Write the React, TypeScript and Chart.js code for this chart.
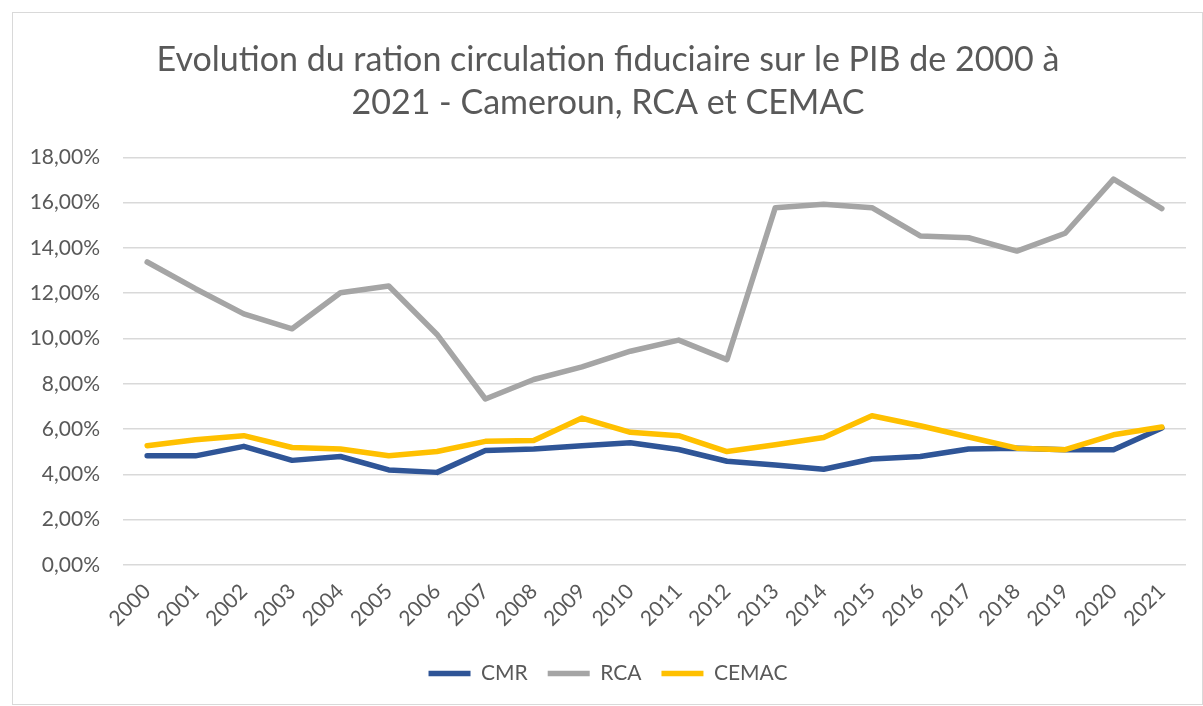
import React, { useEffect, useRef } from "react";
import { Chart, registerables } from "chart.js";

Chart.register(...registerables);

const years = ["2000","2001","2002","2003","2004","2005","2006","2007","2008","2009","2010","2011","2012","2013","2014","2015","2016","2017","2018","2019","2020","2021"];
const cmr = [4.82,4.82,5.24,4.62,4.79,4.20,4.09,5.06,5.12,5.27,5.40,5.10,4.58,4.42,4.23,4.68,4.79,5.12,5.16,5.09,5.09,6.05];
const rca = [13.38,12.20,11.09,10.43,12.02,12.32,10.18,7.33,8.19,8.75,9.44,9.93,9.07,15.78,15.93,15.78,14.53,14.45,13.86,14.65,17.04,15.74];
const cemac = [5.27,5.53,5.71,5.19,5.12,4.82,5.01,5.46,5.50,6.49,5.86,5.71,5.01,5.31,5.63,6.59,6.15,5.65,5.16,5.09,5.75,6.09];
const seriesNames = ["CMR", "RCA", "CEMAC"];
const seriesColors = ["#2F5597", "#A5A5A5", "#FFC000"];
const titleLines = ["Evolution du ration circulation fiduciaire sur le PIB de 2000 à", "2021 - Cameroun, RCA et CEMAC"];
const yMin = 0;
const yMax = 18;
const yStep = 2;

const TEXT = "#595959";
const FONT = "Lato";

export default function App() {
  const ref = useRef<HTMLCanvasElement | null>(null);
  useEffect(() => {
    if (!ref.current) return;
    const values = [cmr, rca, cemac];
    const chart = new Chart(ref.current, {
      type: "line",
      data: {
        labels: years,
        datasets: seriesNames.map((name, i) => ({
          label: name,
          data: values[i],
          borderColor: seriesColors[i],
          backgroundColor: seriesColors[i],
          borderWidth: 5.5,
          pointRadius: 0,
          pointHoverRadius: 0,
          tension: 0,
          borderJoinStyle: "round" as const,
          borderCapStyle: "round" as const,
          order: i === 2 ? 0 : i === 0 ? 2 : 1,
        })),
      },
      options: {
        animation: false,
        responsive: false,
        maintainAspectRatio: false,
        layout: { padding: { left: 17, right: 16, top: 0, bottom: 10 } },
        plugins: {
          title: {
            display: true,
            text: titleLines,
            color: TEXT,
            font: { family: FONT, size: 34, weight: "normal", lineHeight: 1.27 },
            padding: { top: 25, bottom: 33 },
          },
          legend: {
            position: "bottom",
            labels: {
              color: TEXT,
              font: { family: FONT, size: 21 },
              usePointStyle: true,
              pointStyle: "line",
              pointStyleWidth: 42,
              boxHeight: 21,
              padding: 20,
              sort: (a: any, b: any) => a.datasetIndex - b.datasetIndex,
            },
          },
          tooltip: { enabled: false },
        },
        scales: {
          x: {
            offset: true,
            grid: { display: false, drawTicks: false },
            border: { display: false },
            ticks: {
              color: TEXT,
              font: { family: FONT, size: 21 },
              minRotation: 45,
              maxRotation: 45,
              autoSkip: false,
              padding: 14,
            },
            afterFit: (s: any) => { s.height = 78; },
          },
          y: {
            min: yMin,
            max: yMax,
            grid: { color: "#D9D9D9", lineWidth: 1.5, drawTicks: false },
            border: { display: false },
            ticks: {
              stepSize: yStep,
              color: TEXT,
              font: { family: FONT, size: 21 },
              padding: 23,
              callback: (v: any) => Number(v).toFixed(2).replace(".", ",") + "%",
            },
            afterFit: (s: any) => { s.width = 93; },
          },
        },
      },
    });
    return () => chart.destroy();
  }, []);

  return (
    <div
      style={{
        position: "fixed",
        left: 12,
        top: 12,
        width: 1191,
        height: 693,
        border: "1px solid #D9D9D9",
        boxSizing: "border-box",
        background: "#fff",
      }}
    >
      <canvas ref={ref} width={1189} height={691} style={{ display: "block", width: 1189, height: 691 }} />
    </div>
  );
}
